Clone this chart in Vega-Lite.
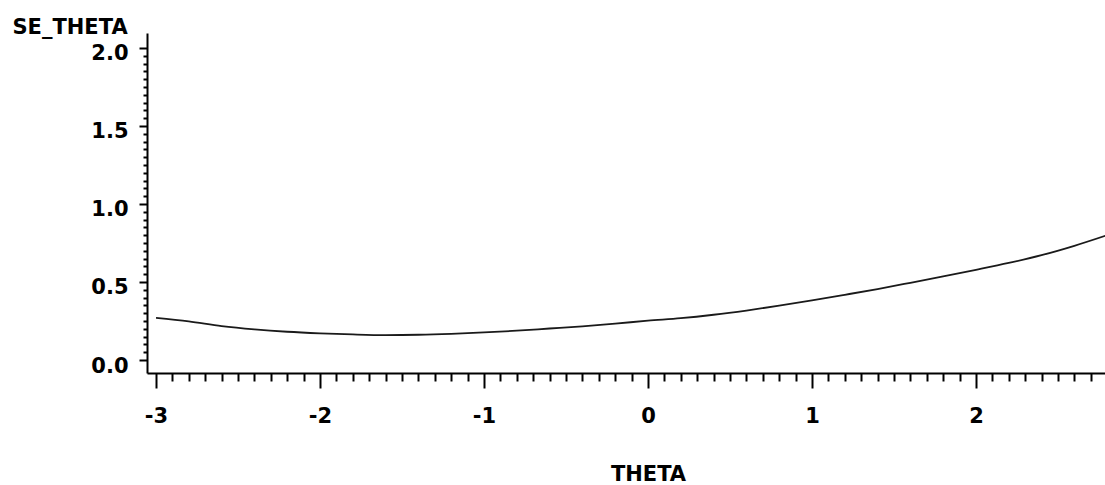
{
  "$schema": "https://vega.github.io/schema/vega-lite/v6.json",
  "autosize": "none",
  "width": 958,
  "height": 340,
  "padding": {"left": 147, "top": 33, "right": 0, "bottom": 112},
  "background": "white",
  "config": {
    "view": {"stroke": null},
    "axis": {
      "labelFont": "DejaVu Sans",
      "labelFontWeight": "bold",
      "labelFontSize": 21,
      "labelColor": "black",
      "titleFont": "DejaVu Sans",
      "titleFontWeight": "bold",
      "titleFontSize": 21,
      "titleColor": "black",
      "domainColor": "black",
      "domainWidth": 2,
      "tickColor": "black",
      "tickWidth": 2,
      "grid": false
    }
  },
  "data": {
    "values": [
      {"THETA": -3.0, "SE_THETA": 0.270},
      {"THETA": -2.8, "SE_THETA": 0.247},
      {"THETA": -2.6, "SE_THETA": 0.217},
      {"THETA": -2.4, "SE_THETA": 0.196},
      {"THETA": -2.2, "SE_THETA": 0.181},
      {"THETA": -2.0, "SE_THETA": 0.171},
      {"THETA": -1.8, "SE_THETA": 0.164},
      {"THETA": -1.6, "SE_THETA": 0.160},
      {"THETA": -1.4, "SE_THETA": 0.162},
      {"THETA": -1.2, "SE_THETA": 0.168},
      {"THETA": -1.0, "SE_THETA": 0.177},
      {"THETA": -0.8, "SE_THETA": 0.188},
      {"THETA": -0.6, "SE_THETA": 0.202},
      {"THETA": -0.4, "SE_THETA": 0.216},
      {"THETA": -0.2, "SE_THETA": 0.233},
      {"THETA": 0.0, "SE_THETA": 0.252},
      {"THETA": 0.2, "SE_THETA": 0.268},
      {"THETA": 0.4, "SE_THETA": 0.290},
      {"THETA": 0.6, "SE_THETA": 0.317},
      {"THETA": 0.8, "SE_THETA": 0.348},
      {"THETA": 1.0, "SE_THETA": 0.382},
      {"THETA": 1.2, "SE_THETA": 0.418},
      {"THETA": 1.4, "SE_THETA": 0.455},
      {"THETA": 1.6, "SE_THETA": 0.495},
      {"THETA": 1.8, "SE_THETA": 0.536},
      {"THETA": 2.0, "SE_THETA": 0.578},
      {"THETA": 2.2, "SE_THETA": 0.622},
      {"THETA": 2.4, "SE_THETA": 0.672},
      {"THETA": 2.6, "SE_THETA": 0.732},
      {"THETA": 2.8, "SE_THETA": 0.800}
    ]
  },
  "mark": {"type": "line", "color": "#1a1a1a", "strokeWidth": 1.8, "interpolate": "monotone", "clip": true},
  "encoding": {
    "x": {
      "field": "THETA",
      "type": "quantitative",
      "scale": {"domain": [-3.055, 2.787], "nice": false, "zero": false},
      "axis": {
        "title": "THETA",
        "titleX": 501,
        "titleY": 107,
        "titleBaseline": "alphabetic",
        "titleAlign": "center",
        "values": [-3, -2.9, -2.8, -2.7, -2.6, -2.5, -2.4, -2.3, -2.2, -2.1, -2, -1.9, -1.8, -1.7, -1.6, -1.5, -1.4, -1.3, -1.2, -1.1, -1, -0.9, -0.8, -0.7, -0.6, -0.5, -0.4, -0.3, -0.2, -0.1, 0, 0.1, 0.2, 0.3, 0.4, 0.5, 0.6, 0.7, 0.8, 0.9, 1, 1.1, 1.2, 1.3, 1.4, 1.5, 1.6, 1.7, 1.8, 1.9, 2, 2.1, 2.2, 2.3, 2.4, 2.5, 2.6, 2.7],
        "labelExpr": "abs(datum.value - round(datum.value)) < 0.001 ? '' + round(datum.value) : ''",
        "tickSize": {"condition": {"test": "abs(datum.value - round(datum.value)) < 0.001", "value": 15}, "value": 8},
        "labelPadding": 17,
        "labelBaseline": "top",
        "labelFlush": false,
        "labelOverlap": false
      }
    },
    "y": {
      "field": "SE_THETA",
      "type": "quantitative",
      "scale": {"domain": [-0.0833, 2.096], "nice": false, "zero": false},
      "axis": {
        "title": "SE_THETA",
        "titleAngle": 0,
        "titleX": -135,
        "titleY": 0,
        "titleAlign": "left",
        "titleBaseline": "alphabetic",
        "values": [0, 0.05, 0.1, 0.15, 0.2, 0.25, 0.3, 0.35, 0.4, 0.45, 0.5, 0.55, 0.6, 0.65, 0.7, 0.75, 0.8, 0.85, 0.9, 0.95, 1, 1.05, 1.1, 1.15, 1.2, 1.25, 1.3, 1.35, 1.4, 1.45, 1.5, 1.55, 1.6, 1.65, 1.7, 1.75, 1.8, 1.85, 1.9, 1.95, 2],
        "labelExpr": "abs(datum.value * 2 - round(datum.value * 2)) < 0.001 ? format(datum.value, '.1f') : ''",
        "tickSize": {"condition": {"test": "abs(datum.value * 2 - round(datum.value * 2)) < 0.001", "value": 8}, "value": 4},
        "labelPadding": 11,
        "labelOffset": 6,
        "labelBaseline": "middle",
        "labelFlush": false,
        "labelOverlap": false
      }
    }
  }
}
